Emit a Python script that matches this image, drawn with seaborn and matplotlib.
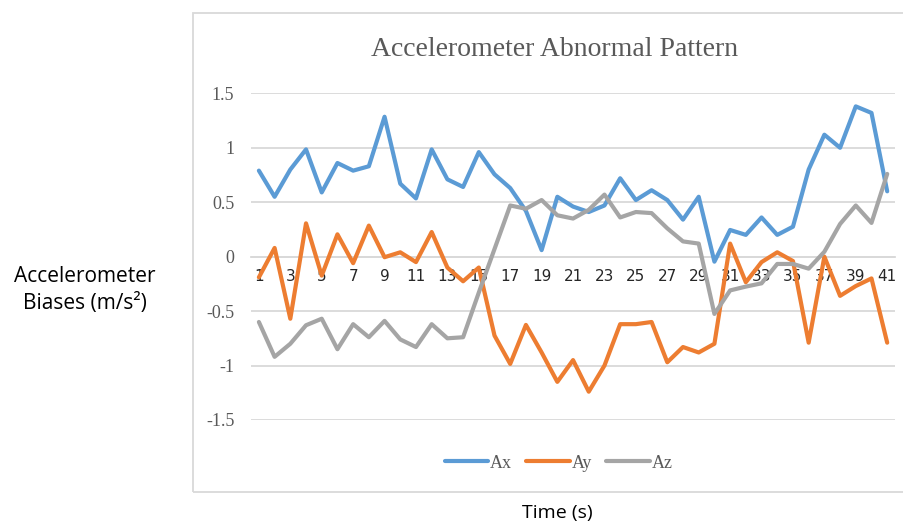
import matplotlib
matplotlib.use("Agg")
import matplotlib.pyplot as plt
from matplotlib.patches import Rectangle
from matplotlib.lines import Line2D
import seaborn as sns
import pandas as pd

# Time steps (s)
time_s = list(range(1, 42))

# Accelerometer biases per axis (m/s^2)
ax_bias = [0.79, 0.55, 0.80, 0.985, 0.59, 0.86, 0.79, 0.83, 1.285, 0.67,
           0.535, 0.985, 0.71, 0.64, 0.96, 0.756, 0.63, 0.42, 0.06, 0.55,
           0.46, 0.41, 0.47, 0.72, 0.52, 0.61, 0.52, 0.34, 0.55, -0.046,
           0.245, 0.20, 0.36, 0.20, 0.275, 0.80, 1.12, 1.00, 1.38, 1.32, 0.60]
ay_bias = [-0.19, 0.08, -0.57, 0.306, -0.174, 0.205, -0.06, 0.285, -0.005, 0.04,
           -0.05, 0.226, -0.10, -0.226, -0.10, -0.725, -0.985, -0.627, -0.88, -1.15,
           -0.95, -1.24, -1.00, -0.62, -0.62, -0.60, -0.97, -0.83, -0.88, -0.80,
           0.12, -0.235, -0.05, 0.04, -0.04, -0.79, 0.00, -0.36, -0.27, -0.20, -0.79]
az_bias = [-0.60, -0.92, -0.80, -0.63, -0.57, -0.85, -0.62, -0.74, -0.59, -0.76,
           -0.83, -0.62, -0.75, -0.74, -0.33, 0.07, 0.47, 0.44, 0.52, 0.38,
           0.35, 0.43, 0.57, 0.36, 0.41, 0.40, 0.26, 0.14, 0.12, -0.526,
           -0.31, -0.275, -0.245, -0.067, -0.067, -0.11, 0.045, 0.30, 0.47, 0.31, 0.76]

series_names = ["Ax", "Ay", "Az"]
series_colors = ["#5B9BD5", "#ED7D31", "#A5A5A5"]

y_ticks = [-1.5, -1, -0.5, 0, 0.5, 1, 1.5]
y_tick_labels = ["-1.5", "-1", "-0.5", "0", "0.5", "1", "1.5"]
x_tick_values = list(range(1, 42, 2))

df = pd.DataFrame({
    "time": time_s * 3,
    "bias": ax_bias + ay_bias + az_bias,
    "axis": sum([[n] * len(time_s) for n in series_names], []),
})

sns.set_theme(style="white")
serif = ["Liberation Serif", "DejaVu Serif"]
sans = ["Open Sans", "DejaVu Sans"]
label_grey = "#595959"
grid_grey = "#D9D9D9"
line_w = 3.0

fig = plt.figure(figsize=(9.04, 5.24), dpi=100)
fig.patch.set_facecolor("white")

# chart-area frame
frame = Rectangle((0.214, 0.061), 0.80, 0.914, transform=fig.transFigure,
                  facecolor="none", edgecolor=grid_grey, linewidth=1.3, zorder=0)
fig.patches.append(frame)

ax = fig.add_axes([0.2777, 0.1985, 0.7124, 0.6234])
sns.lineplot(data=df, x="time", y="bias", hue="axis", hue_order=series_names,
             palette=series_colors, linewidth=line_w, ax=ax, legend=False,
             estimator=None, sort=False)

ax.set_xlim(0.5, 41.5)
ax.set_ylim(-1.5, 1.5)
ax.set_yticks(y_ticks)
ax.set_yticklabels(y_tick_labels, fontfamily=serif, fontsize=13, color=label_grey)
ax.set_xticks(x_tick_values)
ax.set_xticklabels([str(v) for v in x_tick_values], fontfamily=serif,
                   fontsize=13, color=label_grey)
ax.tick_params(axis="both", length=0)
ax.tick_params(axis="y", pad=12)
ax.tick_params(axis="x", pad=9)

ax.grid(axis="y", color=grid_grey, linewidth=1.3)
ax.set_axisbelow(True)
for side in ["left", "right", "top"]:
    ax.spines[side].set_visible(False)
ax.spines["bottom"].set_position(("data", 0))
ax.spines["bottom"].set_color(grid_grey)
ax.spines["bottom"].set_linewidth(1.3)
ax.spines["bottom"].set_zorder(0.5)
ax.set_xlabel("")
ax.set_ylabel("")
ax.set_facecolor("none")

fig.text(0.614, 0.905, "Accelerometer Abnormal Pattern", ha="center", va="center",
         fontfamily=serif, fontsize=20, color=label_grey)

handles = [Line2D([0], [0], color=c, linewidth=line_w) for c in series_colors]
leg = fig.legend(handles, series_names, loc="center", bbox_to_anchor=(0.618, 0.116),
                 ncol=3, frameon=False, handlelength=2.4, handletextpad=0.1,
                 columnspacing=0.8, prop={"family": serif, "size": 13})
for t in leg.get_texts():
    t.set_color(label_grey)

fig.text(0.094, 0.447, "Accelerometer\nBiases (m/s²)", ha="center", va="center",
         fontfamily=sans, fontsize=15, color="black", linespacing=1.4)
fig.text(0.616, 0.021, "Time (s)", ha="center", va="center",
         fontfamily=sans, fontsize=14, color="black")

fig.savefig("out.png", dpi=100, facecolor="white")
